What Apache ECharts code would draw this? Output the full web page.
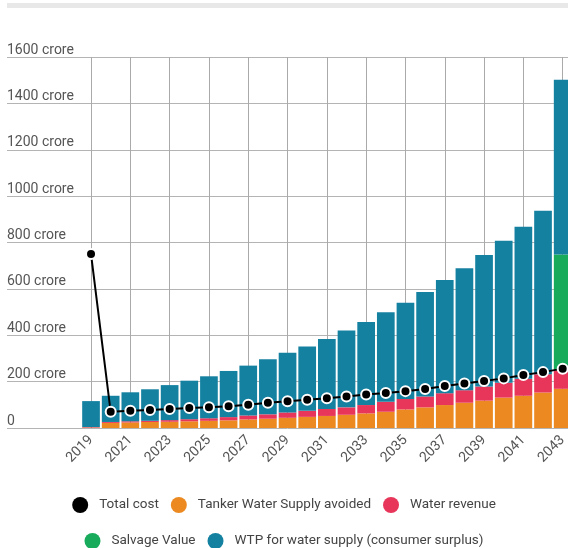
<!DOCTYPE html>
<html>
<head>
<meta charset="utf-8">
<script src="https://cdn.jsdelivr.net/npm/echarts@6/dist/echarts.min.js"></script>
<style>
  html, body { margin: 0; padding: 0; background: #fff; }
  #chart { width: 568px; height: 548px; }
</style>
</head>
<body>
<div id="chart"></div>
<script>
const years = ['2019', '2020', '2021', '2022', '2023', '2024', '2025', '2026', '2027', '2028', '2029', '2030', '2031',
  '2032', '2033', '2034', '2035', '2036', '2037', '2038', '2039', '2040', '2041', '2042', '2043']
const totalCost = [750, 70, 74, 78, 82, 86, 89, 94, 100, 109, 115, 122, 128, 136, 144, 151, 159, 168, 181, 192, 203, 214, 229, 241, 256]
const tanker = [2, 22, 24, 26, 27, 29, 31, 33, 37, 40, 44, 48, 52, 57, 63, 70, 80, 89, 99, 109, 118, 131, 139, 153, 169]
const revenue = [2, 4, 5, 5, 7, 9, 11, 14, 17, 19, 23, 26, 30, 32, 36, 43, 45, 47, 51, 54, 61, 64, 73, 79, 80]
const salvage = [0, 0, 0, 0, 0, 0, 0, 0, 0, 0, 0, 0, 0, 0, 0, 0, 0, 0, 0, 0, 0, 0, 0, 0, 499]
const wtp = [112, 113, 125, 136, 151, 166, 181, 199, 215, 237, 258, 278, 302, 331, 358, 386, 415, 450, 488, 526, 567, 613, 656, 705, 754]
const yTicks = [0, 200, 400, 600, 800, 1000, 1200, 1400, 1600]

const chart = echarts.init(document.getElementById('chart'))

const font = 'Roboto, "Noto Sans", sans-serif'
const barSeries = (name, data, color) => ({
  name: name,
  type: 'bar',
  stack: 'benefits',
  xAxisIndex: 1,
  yAxisIndex: 1,
  barCategoryGap: '10%',
  data: data,
  itemStyle: { color: color }
})

const legendBase = {
  left: 'center',
  padding: 0,
  icon: 'circle',
  itemWidth: 16,
  itemHeight: 16,
  itemGap: 12,
  itemStyle: { borderWidth: 0 },
  textStyle: {
    fontFamily: font,
    fontSize: 13.5,
    color: '#444',
    padding: [0, 0, 0, 6]
  }
}

chart.setOption({
  animation: false,
  graphic: [
    {
      type: 'rect',
      shape: { x: 7, y: 3, width: 561, height: 5 },
      style: { fill: '#e8e8e8' }
    }
  ],
  grid: [
    // horizontal gridlines + labels span the full width
    { left: 7, right: 0, top: 57, bottom: 120, outerBoundsMode: 'none' },
    // bars, slightly wider than the window so 2043 is cut off
    { left: 81.2, right: -4.5, top: 57, bottom: 120, outerBoundsMode: 'none' }
  ],
  legend: [
    Object.assign({}, legendBase, {
      top: 497,
      data: ['Total cost', 'Tanker Water Supply avoided', 'Water revenue']
    }),
    Object.assign({}, legendBase, {
      top: 533,
      data: ['Salvage Value', 'WTP for water supply (consumer surplus)']
    })
  ],
  xAxis: [
    { type: 'value', gridIndex: 0, show: false, min: 0, max: 1 },
    {
      type: 'category',
      gridIndex: 1,
      data: years,
      axisLine: { show: false },
      axisTick: { show: false },
      axisLabel: {
        interval: 1,
        rotate: 45,
        margin: 10,
        fontFamily: font,
        fontSize: 14,
        color: '#555'
      },
      splitLine: {
        show: true,
        interval: 1,
        alignWithLabel: true,
        lineStyle: { color: '#aaa', width: 1 }
      }
    }
  ],
  yAxis: [
    {
      type: 'value',
      gridIndex: 0,
      min: yTicks[0],
      max: yTicks[yTicks.length - 1],
      interval: 200,
      axisLine: { show: false },
      axisTick: { show: false },
      axisLabel: {
        inside: true,
        margin: 0,
        align: 'left',
        verticalAlign: 'bottom',
        fontFamily: font,
        fontSize: 14,
        color: '#555',
        formatter: v => v === 0 ? '0' : v + ' crore'
      },
      splitLine: { lineStyle: { color: '#b4b4b4', width: 1 } }
    },
    {
      type: 'value',
      gridIndex: 1,
      min: yTicks[0],
      max: yTicks[yTicks.length - 1],
      interval: 200,
      show: false,
      splitLine: { show: false }
    }
  ],
  series: [
    {
      name: 'Total cost',
      type: 'line',
      xAxisIndex: 1,
      yAxisIndex: 1,
      data: totalCost,
      z: 5,
      symbol: 'circle',
      symbolSize: 10,
      lineStyle: { color: '#000', width: 2 },
      itemStyle: { color: '#000', borderColor: '#fff', borderWidth: 2 }
    },
    barSeries('Tanker Water Supply avoided', tanker, '#ec8a21'),
    barSeries('Water revenue', revenue, '#e8365b'),
    barSeries('Salvage Value', salvage, '#17ab5b'),
    barSeries('WTP for water supply (consumer surplus)', wtp, '#1481a1')
  ]
})
</script>
</body>
</html>
